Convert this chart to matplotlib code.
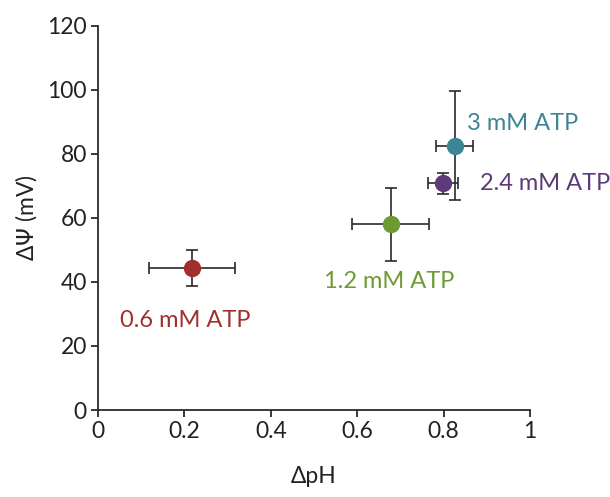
import matplotlib
matplotlib.use("Agg")
import matplotlib.pyplot as plt

plt.rcParams['font.family'] = ['Lato', 'DejaVu Sans']

labels = ["0.6 mM ATP", "1.2 mM ATP", "2.4 mM ATP", "3 mM ATP"]
dpH = [0.218, 0.677, 0.798, 0.826]
dpH_err = [0.099, 0.089, 0.035, 0.043]
dPsi = [44.3, 58.1, 70.8, 82.6]
dPsi_err = [5.6, 11.4, 3.3, 17.0]
colors = ["#A0302E", "#6E9A33", "#5E3A78", "#3B8594"]
label_pos = [(0.202, 28.0, "center"), (0.675, 40.0, "center"),
             (0.885, 70.6, "left"), (0.854, 89.6, "left")]

fig = plt.figure(figsize=(6.10, 4.97), dpi=100)
ax = fig.add_axes([0.1607, 0.175, 0.869 - 0.1607, 0.948 - 0.175])

for i in range(len(labels)):
    ax.errorbar(dpH[i], dPsi[i], xerr=dpH_err[i], yerr=dPsi_err[i],
                fmt='none', ecolor='#2a2a2a', elinewidth=1.2, capsize=4,
                capthick=1.2, zorder=2)
    ax.plot(dpH[i], dPsi[i], 'o', color=colors[i], markersize=12.5,
            markeredgewidth=0, zorder=3)
    lx, ly, ha = label_pos[i]
    ax.text(lx, ly, labels[i], color=colors[i], fontsize=17, ha=ha,
            va='center')

ax.set_xlim(0, 1)
ax.set_ylim(0, 120)
ax.set_xticks([0, 0.2, 0.4, 0.6, 0.8, 1])
ax.set_xticklabels(["0", "0.2", "0.4", "0.6", "0.8", "1"])
ax.set_yticks([0, 20, 40, 60, 80, 100, 120])
ax.spines['top'].set_visible(False)
ax.spines['right'].set_visible(False)
for s in ('left', 'bottom'):
    ax.spines[s].set_linewidth(1.3)
    ax.spines[s].set_color('#2a2a2a')
ax.tick_params(direction='out', length=5, width=1.3, color='#2a2a2a',
               labelsize=16.5, labelcolor='#222222', pad=3)
ax.set_xlabel("ΔpH", fontsize=16.5, color='#222222', labelpad=17)
ax.set_ylabel("Δ$\\mathit{\\Psi}$ (mV)", fontsize=16.5, color='#222222',
              labelpad=6)

fig.savefig("out.png", dpi=100)
